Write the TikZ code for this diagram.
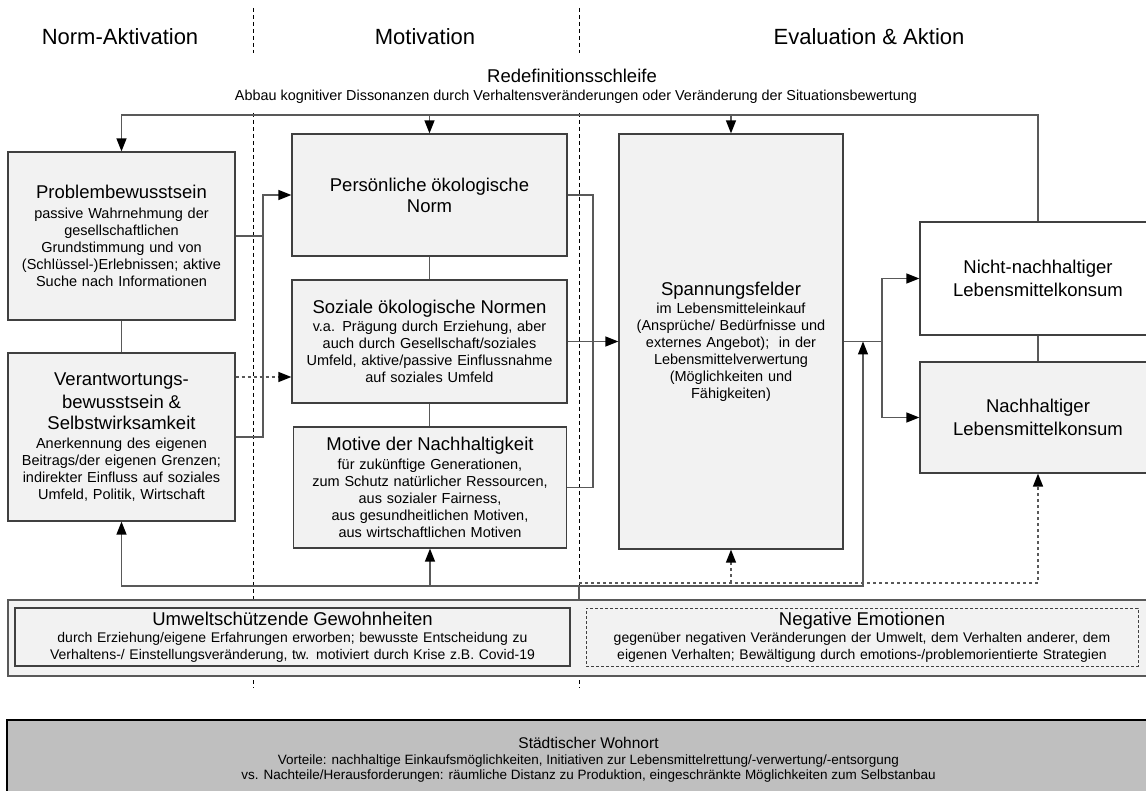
\documentclass[tikz,border=0pt]{standalone}
\usepackage{fontspec}
\setmainfont{Liberation Sans}
\usetikzlibrary{arrows.meta}
\definecolor{boxfill}{HTML}{F2F2F2}
\definecolor{boxline}{HTML}{404040}
\definecolor{conline}{HTML}{595959}
\definecolor{cityfill}{HTML}{BFBFBF}
\newcommand{\boxtitle}[1]{{\fontsize{18.5}{22}\selectfont #1}}
\begin{document}
\begin{tikzpicture}[x=1pt, y=-1pt,
    box/.style={rectangle, draw=boxline, fill=boxfill, line width=1.2pt, inner sep=0pt, align=center, font=\fontsize{14.5}{17}\selectfont},
    line/.style={draw=conline, line width=1.3pt},
    arrow/.style={line, -{Triangle[length=13pt, width=10pt, color=black]}},
    phase/.style={black, line width=0.8pt, dash pattern=on 4pt off 3pt},
    heading/.style={font=\fontsize{22}{26}\selectfont}
  ]
  \useasboundingbox (0,0) rectangle (1146,791);

  % phases
  \node[heading] (hnorm) at (120,37) {Norm-Aktivation};
  \node[heading] (hmot) at (425,37) {Motivation};
  \node[heading] (heval) at (869,37) {Evaluation \& Aktion};
  \foreach \px in {253,579} {
    \draw[phase] (\px,8) -- (\px,53);
    \draw[phase] (\px,113) -- (\px,688);
  }

  \node[font=\fontsize{18.5}{20}\selectfont] (redef) at (572,76) {Redefinitionsschleife};
  \node[font=\fontsize{14.4}{16}\selectfont] (redefsub) at (576,97) {Abbau kognitiver Dissonanzen durch Verhaltensveränderungen oder Veränderung der Situationsbewertung};

  % Norm-Aktivation
  \node[box, minimum width=227pt, minimum height=168pt, text width=220pt] (prob) at (121.5,236) {\boxtitle{Problembewusstsein}\\[3pt]
    passive Wahrnehmung der\\gesellschaftlichen\\Grundstimmung und von\\(Schlüssel-)Erlebnissen; aktive\\Suche nach Informationen};
  \node[box, minimum width=227pt, minimum height=168pt, text width=220pt] (verant) at (121.5,437) {\boxtitle{Verantwortungs-}\\[4pt]
    \boxtitle{bewusstsein \&}\\[4pt]\boxtitle{Selbstwirksamkeit}\\[2pt]
    Anerkennung des eigenen\\Beitrags/der eigenen Grenzen;\\indirekter Einfluss auf soziales\\Umfeld, Politik, Wirtschaft};

  % Motivation
  \node[box, minimum width=275pt, minimum height=122pt, text width=268pt] (pers) at (429.5,195) {\boxtitle{Persönliche ökologische}\\[4pt]\boxtitle{Norm}};
  \node[box, minimum width=275pt, minimum height=123pt, text width=268pt] (sozial) at (429.5,341.5) {\boxtitle{Soziale ökologische Normen}\\[1pt]
    v.a. Prägung durch Erziehung, aber\\auch durch Gesellschaft/soziales\\Umfeld, aktive/passive Einflussnahme\\auf soziales Umfeld};
  \node[box, minimum width=273pt, minimum height=121pt, text width=266pt] (motive) at (430,487.5) {\boxtitle{Motive der Nachhaltigkeit}\\[2pt]
    für zukünftige Generationen,\\zum Schutz natürlicher Ressourcen,\\aus sozialer Fairness,\\aus gesundheitlichen Motiven,\\aus wirtschaftlichen Motiven};

  % Evaluation & Aktion
  \node[box, minimum width=224pt, minimum height=415pt, text width=218pt] (spann) at (731,341.5) {\boxtitle{Spannungsfelder}\\[1pt]
    im Lebensmitteleinkauf\\(Ansprüche/ Bedürfnisse und\\externes Angebot);\ \ in der\\Lebensmittelverwertung\\(Möglichkeiten und\\Fähigkeiten)};
  \node[box, fill=white, minimum width=236pt, minimum height=113pt, text width=228pt] (nicht) at (1038,278.5) {\boxtitle{Nicht-nachhaltiger}\\[4pt]\boxtitle{Lebensmittelkonsum}};
  \node[box, minimum width=236pt, minimum height=111pt, text width=228pt] (nach) at (1038,417.5) {\boxtitle{Nachhaltiger}\\[4pt]\boxtitle{Lebensmittelkonsum}};

  % habits and emotions
  \node[rectangle, draw=conline, fill=boxfill, line width=1.5pt, minimum width=1160pt, minimum height=76pt] (habits) at (588,638) {};
  \node[box, font=\fontsize{14}{17}\selectfont, minimum width=555pt, minimum height=58pt, text width=550pt] (umwelt) at (292.5,637) {\boxtitle{Umweltschützende Gewohnheiten}\\
    durch Erziehung/eigene Erfahrungen erworben; bewusste Entscheidung zu\\Verhaltens-/ Einstellungsveränderung, tw. motiviert durch Krise z.B. Covid-19};
  \node[box, font=\fontsize{14}{17}\selectfont, dash pattern=on 3pt off 2pt, line width=0.9pt, minimum width=552pt, minimum height=58pt, text width=546pt] (negemo) at (862,637) {\boxtitle{Negative Emotionen}\\
    gegenüber negativen Veränderungen der Umwelt, dem Verhalten anderer, dem\\eigenen Verhalten; Bewältigung durch emotions-/problemorientierte Strategien};

  % place of residence
  \node[rectangle, draw=black, fill=cityfill, line width=1.2pt, minimum width=1163pt, minimum height=80pt, align=center, font=\fontsize{13.5}{15.5}\selectfont] (stadt) at (588.5,760) {{\fontsize{15.5}{17}\selectfont Städtischer Wohnort}\\
    Vorteile: nachhaltige Einkaufsmöglichkeiten, Initiativen zur Lebensmittelrettung/-verwertung/-entsorgung\\
    vs. Nachteile/Herausforderungen: räumliche Distanz zu Produktion, eingeschränkte Möglichkeiten zum Selbstanbau};

  % redefinition loop
  \coordinate (top) at (580,115);
  \draw[arrow] (nicht.north) |- (top) -| (prob.north);
  \draw[arrow] (pers.north |- top) -- (pers.north);
  \draw[arrow] (spann.north |- top) -- (spann.north);

  % links inside the columns
  \draw[line] (prob) -- (verant);
  \draw[line] (pers.south) -- (pers.south |- sozial.north);
  \draw[line] (sozial.south) -- (sozial.south |- motive.north);
  \draw[line] (nicht) -- (nach);

  \coordinate (lj) at (263,236);
  \draw[arrow] (prob.east) -- (lj) |- (pers.west);
  \draw[line] (verant.east) -| (lj);
  \draw[arrow, dashed] ([yshift=60pt]verant.east) -- ([yshift=60pt]verant.east -| sozial.west);

  \coordinate (mj) at (593,341.5);
  \draw[line] (pers.east) -| (mj);
  \draw[line] (motive.east) -| (mj);
  \draw[arrow] (sozial.east) -- (spann.west);

  \coordinate (rj) at (882,341.5);
  \draw[arrow] (spann.east) -- (rj) |- (nicht.west);
  \draw[arrow] (rj) |- (nach.west);

  % feedback from habits and emotions
  \coordinate (fb) at (579,586);
  \coordinate (db) at (579,583);
  \coordinate (uj) at (863,341.5);
  \draw[line] (habits.north -| fb) -- (fb);
  \draw[arrow] (fb) -| (verant.south);
  \draw[arrow] (motive.south |- fb) -- (motive.south);
  \draw[arrow] (fb) -| (uj);
  \draw[arrow, dashed] (db) -| (nach.south);
  \draw[arrow, dashed] (spann.south |- db) -- (spann.south);
\end{tikzpicture}
\end{document}
